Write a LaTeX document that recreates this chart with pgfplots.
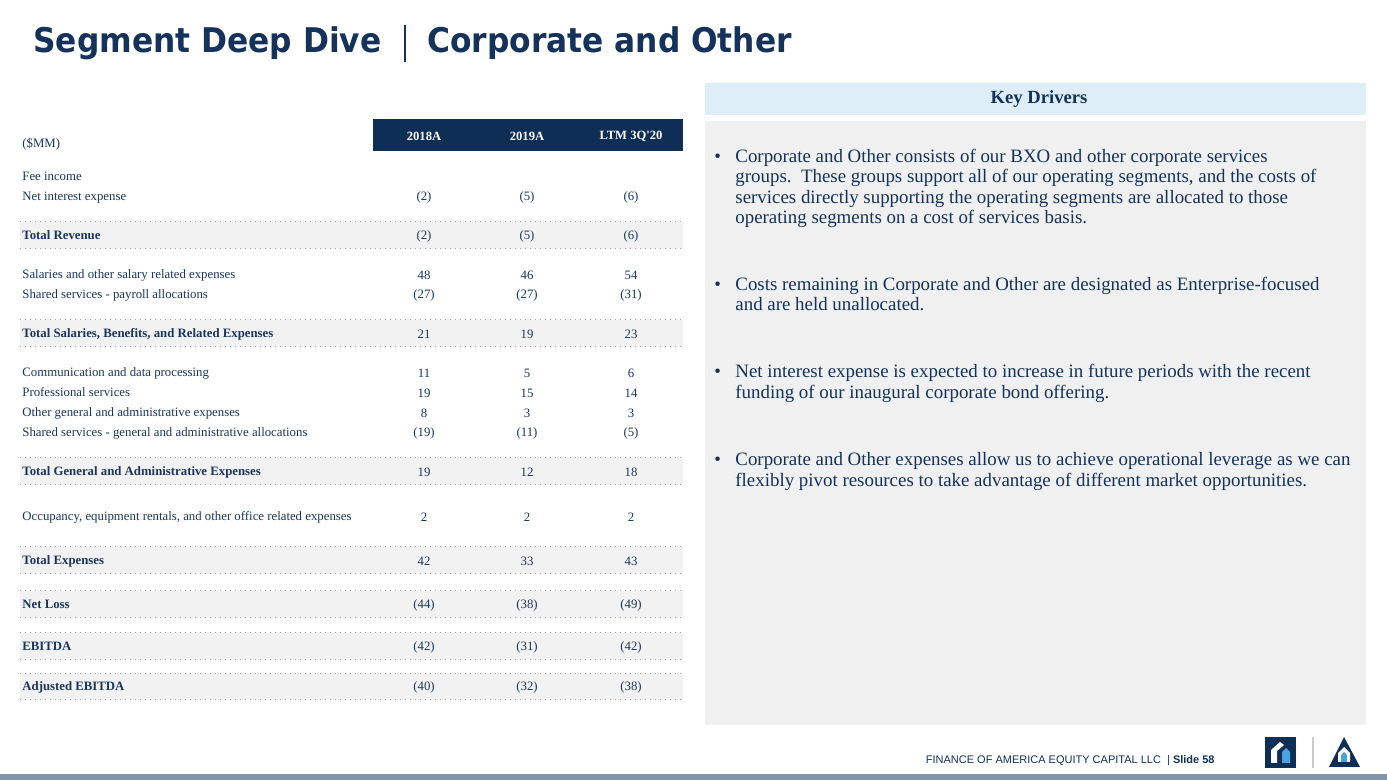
\documentclass[border=0pt]{standalone}
\usepackage{pgfplots}
\pgfplotsset{compat=1.18}
\usepackage{pgfplotstable}
\usepackage{fontspec}
\setmainfont{Liberation Serif}
\newfontfamily\titlefont[FakeStretch=0.92]{DejaVu Sans}
\newfontfamily\footfont{Liberation Sans}
\definecolor{navy}{HTML}{14325A}
\definecolor{tabtext}{HTML}{1B365D}
\definecolor{headbar}{HTML}{0F2E55}
\definecolor{band}{HTML}{F2F2F2}
\definecolor{panel}{HTML}{F0F0F0}
\definecolor{keyhead}{HTML}{DDEEF8}
\definecolor{dotline}{HTML}{A0A0A0}
\definecolor{bottombar}{HTML}{8395AD}
\definecolor{logoblue}{HTML}{4AA3DF}

\pgfplotstableread{
y a b c
197 -2 -5 -6
236 -2 -5 -6
275 48 46 54
295 -27 -27 -31
334 21 19 23
373 11 5 6
393 19 15 14
413 8 3 3
433 -19 -11 -5
472 19 12 18
517 2 2 2
561 42 33 43
605 -44 -38 -49
647 -42 -31 -42
687 -40 -32 -38
}\datatable

\newcommand\fmt[1]{\pgfmathparse{abs(#1)}\pgfmathtruncatemacro\vb{\pgfmathresult}\ifdim#1pt<0pt (\vb)\else\vb\fi}
\newcommand\tabf{\fontsize{6.4}{7}\selectfont}
\newcommand\bodyf{\fontsize{9.45}{10.25}\selectfont}

\begin{document}
\begin{tikzpicture}
% ---------- background layer (pixel coordinates, y downwards) ----------
\begin{scope}[x=0.5pt, y=-0.5pt, yshift=390pt]
\fill[white] (0,0) rectangle (1387,780);
\fill[headbar] (373,119) rectangle (683,151);
\foreach \ya/\yb in {222/249, 320/347, 458/485, 547/574, 591/618, 633/660, 674/700}{
  \fill[band] (20,\ya) rectangle (683,\yb);
  \draw[dotline, dotted, line width=0.5pt] (20,\ya) -- (683,\ya);
  \draw[dotline, dotted, line width=0.5pt] (20,\yb) -- (683,\yb);
}
\fill[keyhead] (705,83) rectangle (1366,115);
\fill[panel] (705,121) rectangle (1366,725);
\fill[bottombar] (0,774) rectangle (1387,780);
\end{scope}
% ---------- axis with the table values ----------
\begin{axis}[
  at={(0,0)}, anchor=south west,
  scale only axis, width=693.5pt, height=390pt,
  xmin=0, xmax=1387, ymin=0, ymax=780, y dir=reverse,
  hide axis, clip=false,
  valnodes/.style={draw=none, mark=none, nodes near coords={\fmt{\va}},
    nodes near coords align={center},
    every node near coord/.append style={font=\tabf, text=tabtext, anchor=center}},
]
\addplot[valnodes, visualization depends on={\thisrow{a}\as\va}] table[x expr=424, y=y] {\datatable};
\addplot[valnodes, visualization depends on={\thisrow{b}\as\va}] table[x expr=527, y=y] {\datatable};
\addplot[valnodes, visualization depends on={\thisrow{c}\as\va}] table[x expr=631, y=y] {\datatable};
\end{axis}
% ---------- text layer ----------
\begin{scope}[x=0.5pt, y=-0.5pt, yshift=390pt]
\node[anchor=base west, inner sep=0, font=\titlefont\bfseries\fontsize{17}{20}\selectfont, text=navy] at (33,53) {Segment Deep Dive};
\draw[navy, line width=0.7pt] (405,25) -- (405,62);
\node[anchor=base west, inner sep=0, font=\titlefont\bfseries\fontsize{17}{20}\selectfont, text=navy] at (427,53) {Corporate and Other};
\node[font=\bfseries\fontsize{6.3}{7}\selectfont, text=white] at (424,136) {2018A};
\node[font=\bfseries\fontsize{6.3}{7}\selectfont, text=white] at (527,136) {2019A};
\node[font=\bfseries\fontsize{6.3}{7}\selectfont, text=white] at (631,136) {LTM 3Q\textquotesingle20};
\node[anchor=base west, inner sep=0, font=\tabf, text=tabtext] at (22,148) {(\$MM)};
\foreach \yy/\txt in {177/Fee income, 197/Net interest expense, 275/Salaries and other salary related expenses, 295/Shared services - payroll allocations, 373/Communication and data processing, 393/Professional services, 413/Other general and administrative expenses, 433/Shared services - general and administrative allocations, 517/{Occupancy, equipment rentals, and other office related expenses}}{
  \node[anchor=base west, inner sep=0, font=\tabf, text=tabtext] at (22,\yy+3.5) {\txt};
}
\foreach \yy/\txt in {236/Total Revenue, 334/{Total Salaries, Benefits, and Related Expenses}, 472/Total General and Administrative Expenses, 561/Total Expenses, 605/Net Loss, 647/EBITDA, 687/Adjusted EBITDA}{
  \node[anchor=base west, inner sep=0, font=\tabf\bfseries, text=tabtext] at (22,\yy+3.5) {\txt};
}
\node[font=\bfseries\fontsize{9.3}{10}\selectfont, text=navy] at (1039,99) {Key Drivers};
\foreach \yy in {158,286,373,461}{
  \node[anchor=base west, inner sep=0, font=\bodyf, text=navy] at (714,\yy+5) {\textbullet};
}
\foreach \yy/\txt in {
 158/Corporate and Other consists of our BXO and other corporate services,
 178/{groups.\ \ These groups support all of our operating segments, and the costs of},
 199/services directly supporting the operating segments are allocated to those,
 219/operating segments on a cost of services basis.,
 286/Costs remaining in Corporate and Other are designated as Enterprise-focused,
 306/and are held unallocated.,
 373/Net interest expense is expected to increase in future periods with the recent,
 394/funding of our inaugural corporate bond offering.,
 461/Corporate and Other expenses allow us to achieve operational leverage as we can,
 482/flexibly pivot resources to take advantage of different market opportunities.}{
  \node[anchor=base west, inner sep=0, font=\bodyf, text=navy] at (735,\yy+5) {\txt};
}
\node[anchor=base east, inner sep=0, font=\footfont\fontsize{5.5}{7}\selectfont, text=navy] at (1215,764) {FINANCE OF AMERICA EQUITY CAPITAL LLC\ \ | \textbf{Slide 58}};
\fill[headbar] (1265,737) rectangle (1296,768);
\fill[white] (1271,763) -- (1271,750) -- (1280,742) -- (1284,745) -- (1277,751) -- (1277,763) -- cycle;
\fill[logoblue] (1282,763) -- (1282,752) -- (1286,748) -- (1290,752) -- (1290,763) -- cycle;
\draw[gray!40, line width=0.6pt] (1313,737) -- (1313,768);
\fill[headbar] (1344,737) -- (1329,767) -- (1360,767) -- cycle;
\fill[white] (1338,762) -- (1338,753) -- (1344,747) -- (1350,753) -- (1350,762) -- cycle;
\fill[logoblue] (1341,762) -- (1341,755) -- (1344,752) -- (1347,755) -- (1347,762) -- cycle;
\end{scope}
\end{tikzpicture}
\end{document}
